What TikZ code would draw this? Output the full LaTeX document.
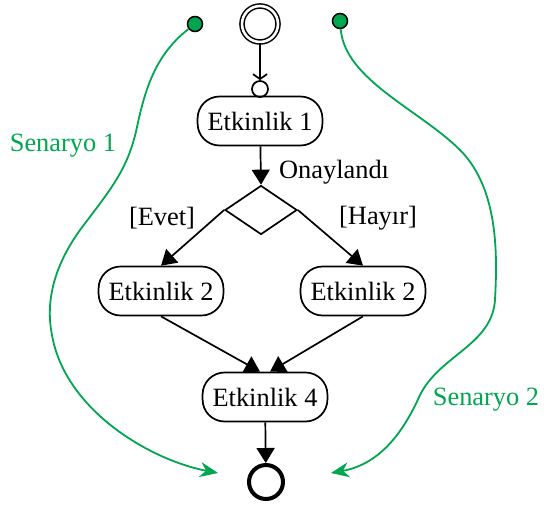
\documentclass[tikz,border=0pt]{standalone}
\usepackage{fontspec}
\setmainfont{Liberation Serif}
\usetikzlibrary{arrows.meta,shapes.geometric}
\definecolor{senaryo}{RGB}{0,166,80}
\begin{document}
\begin{tikzpicture}[x=0.5pt,y=-0.5pt,font=\fontsize{13.2}{16}\selectfont]
\useasboundingbox (0,0) rectangle (544,508);

\tikzset{activity/.style = {draw,line width=0.85pt,rounded corners=11pt,minimum height=24.5pt,inner xsep=5pt}}
\tikzset{decision/.style = {shape=diamond,draw,line width=0.85pt,minimum width=36pt,minimum height=24.5pt,inner sep=0pt}}
\tikzset{initial/.style = {shape=circle,draw,line width=0.75pt,double,double distance=1.3pt,minimum size=18pt,inner sep=0pt}}
\tikzset{final/.style = {shape=circle,draw,line width=2pt,minimum size=17pt,inner sep=0pt}}
\tikzset{pinnode/.style = {shape=circle,draw,line width=0.85pt,minimum size=8pt,inner sep=0pt}}
\tikzset{token/.style = {shape=circle,draw,line width=0.75pt,fill=senaryo,minimum size=7.5pt,inner sep=0pt}}
\tikzset{flow/.style = {line width=0.85pt,-{Triangle[length=7.5pt,width=9pt]}}}
\tikzset{scenario/.style = {senaryo,line width=0.9pt,-{Stealth[length=9pt,width=7.5pt]}}}

\node[initial] (start) at (260,24) {};
\node[pinnode] (pin) at (260,89) {};
\node[activity] (e1) at (260,121) {Etkinlik 1};
\node[decision] (karar) at (261,210) {};
\node[activity] (e2a) at (161,291) {Etkinlik 2};
\node[activity] (e2b) at (363,291) {Etkinlik 2};
\node[activity] (e4) at (265,397) {Etkinlik 4};
\node[final] (end) at (266,482) {};

%labels
\node[anchor=west] (onay) at (272,172) {Onaylandı};
\node (evet) at (162,218) {[Evet]};
\node (hayir) at (378,218) {[Hayır]};

%scenarios
\node[token] (t1) at (195,24) {};
\node[token] (t2) at (340,21) {};
\node[text=senaryo] (s1) at (63,146) {Senaryo 1};
\node[text=senaryo] (s2) at (486,400) {Senaryo 2};
\coordinate (g1) at (218,473);
\coordinate (g2) at (331,473);

%edges
\draw[line width=0.85pt,-{Straight Barb[length=2.5pt,width=7pt]}] (start) -- (pin.north);
\draw[flow] (e1) -- (karar.north);
\draw[flow] (karar.west) -- (e2a.north);
\draw[flow] (karar.east) -- (e2b.north);
\draw[flow] (e2a.south) -- ([xshift=-2.5pt]e4.north);
\draw[flow] (e2b.south) -- ([xshift=2.5pt]e4.north);
\draw[flow] (e4) -- (end);

\draw[scenario] (t1) .. controls (155,55) and (145,90) .. (137,127)
  .. controls (128,170) and (110,190) .. (80,230)
  .. controls (55,265) and (45,300) .. (52,335)
  .. controls (65,410) and (150,460) .. (g1);
\draw[scenario] (t2) .. controls (345,80) and (420,110) .. (460,150)
  .. controls (500,190) and (497,260) .. (495,300)
  .. controls (492,345) and (440,355) .. (420,395)
  .. controls (400,440) and (375,465) .. (g2);
\end{tikzpicture}
\end{document}
